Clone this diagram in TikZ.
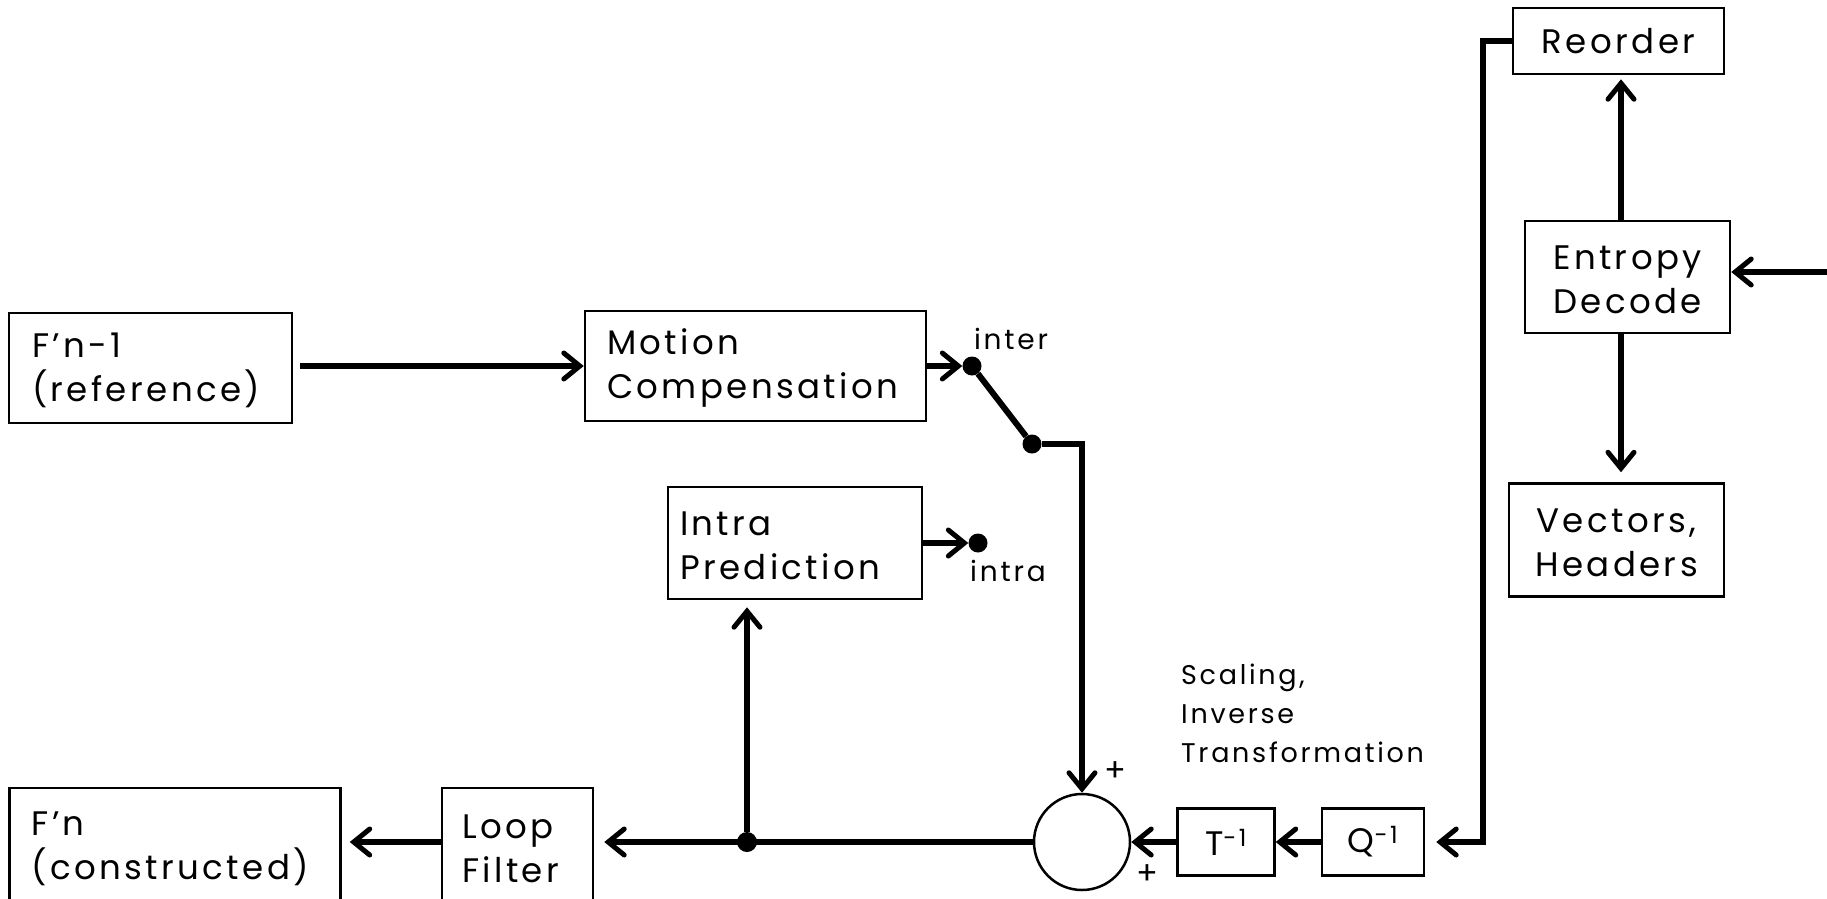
\documentclass[tikz,border=0pt]{standalone}
\usepackage{fontspec}
\setmainfont{Poppins}[LetterSpace=10]
\usetikzlibrary{arrows.meta}
% two-line block label with fixed line heights, so every block sets its lines alike
\newcommand\twolines[2]{\rule{0pt}{30pt}#1\\#2\rule[-2pt]{0pt}{2pt}}
\begin{document}
\begin{tikzpicture}[x=1pt,y=-1pt,
  blk/.style={draw,line width=2.5pt,inner sep=0pt,font=\fontsize{34}{44}\selectfont},
  lblk/.style={blk,align=left},
  cblk/.style={blk,align=center},
  wire/.style={line width=6pt},
  arr/.style={-{Straight Barb[length=16pt,width=26pt,line width=5pt,line cap=round]}},
  dot/.style={circle,fill,inner sep=0pt,minimum size=19pt},
  small/.style={inner sep=0pt,font=\fontsize{28}{39}\selectfont},
  sign/.style={inner sep=0pt,font=\fontsize{32}{34}\selectfont}]
\useasboundingbox (0,0) rectangle (1827,898);
% blocks
\node[lblk,minimum width=283pt,minimum height=110pt,text width=237pt] (ref) at (150.5,368) {\twolines{F’n-1}{(reference)}};
\node[lblk,minimum width=341pt,minimum height=110pt,text width=297pt] (mc) at (755.5,366) {\twolines{Motion}{Compensation}};
\node[lblk,minimum width=254pt,minimum height=112pt,text width=230pt] (intra) at (795,543) {\twolines{Intra}{Prediction}};
\node[cblk,minimum width=211pt,minimum height=66pt] (reorder) at (1618.5,41) {Reorder};
\node[cblk,minimum width=205pt,minimum height=112pt] (ent) at (1627.5,277) {\twolines{Entropy}{Decode}};
\node[cblk,minimum width=215pt,minimum height=113pt] (vec) at (1616.5,540) {\twolines{Vectors,}{Headers}};
\node[cblk,minimum width=97pt,minimum height=67pt] (T) at (1226,842) {T\textsuperscript{-1}};
\node[cblk,minimum width=102pt,minimum height=67pt] (Q) at (1373,842) {Q\textsuperscript{-1}};
\node[draw,circle,line width=2.5pt,minimum size=96pt,inner sep=0pt] (sum) at (1082,842) {};
\node[lblk,minimum width=151pt,minimum height=116pt,text width=111pt] (lf) at (517.5,846) {\twolines{Loop}{Filter}};
\node[lblk,minimum width=331pt,minimum height=116pt,text width=287pt] (fn) at (175,846) {\twolines{F’n}{(constructed)}};
% switch contacts and junctions
\node[dot] (dint) at (972,366) {};
\node[dot] (dsw) at (1032,444) {};
\node[dot] (dintra) at (978,543) {};
\node[dot,minimum size=20pt] (j) at (747,842) {};
\coordinate (in) at (1827,272);
\coordinate (bend) at (1483,842);
% labels
\node[small] (linter) at (1011,339) {inter};
\node[small] (lintra) at (1008,571) {intra};
\node[small,font=\fontsize{27}{39}\selectfont,anchor=north west,align=left] (lst) at (1181,664) {Scaling,\\Inverse\\Transformation};
\node[sign] (p1) at (1115,772) {+};
\node[sign] (p2) at (1147,875) {+};
% connectors
\draw[wire,arr,shorten <=7pt] (ref.east |- mc) -- (mc.west);
\draw[wire,arr] (mc.east) -- (dint);
\draw[wire] (dint) -- (dsw);
\draw[wire,arr] (dsw) -| (sum.north);
\draw[wire,arr] (intra.east) -- (dintra);
\draw[wire,arr,shorten >=10pt] (sum.west) -- (sum.west -| lf.east);
\draw[wire,arr,shorten >=7pt] (j) -- (j |- intra.south);
\draw[wire,arr,shorten >=8pt] (lf.west |- j) -- (fn.east |- j);
\draw[wire,arr] (T.west) -- (sum.east);
\draw[wire,arr] (Q.west) -- (T.east);
\draw[wire,arr,shorten >=11pt] (reorder.west) -| (bend) -- (Q.east |- bend);
\draw[wire,arr,shorten >=4pt] (ent.north -| 1621,0) -- (reorder.south -| 1621,0);
\draw[wire,arr,shorten >=10pt] (ent.south -| 1621,0) -- (vec.north -| 1621,0);
\draw[wire,arr] (in) -- (in -| ent.east);
\end{tikzpicture}
\end{document}
